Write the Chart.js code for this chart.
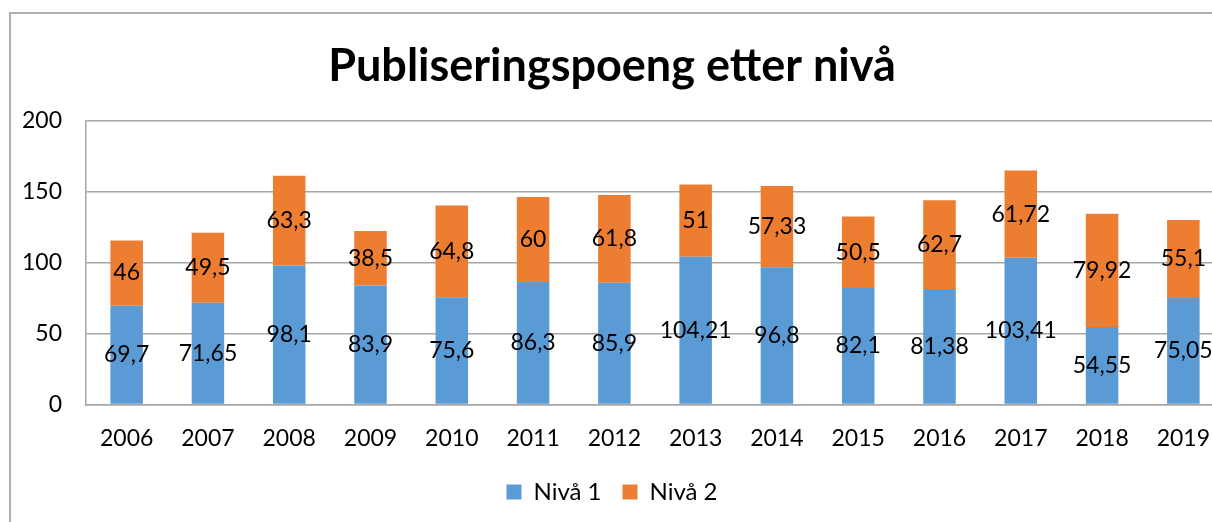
<!DOCTYPE html>
<html>
<head>
<meta charset="utf-8">
<script src="https://cdn.jsdelivr.net/npm/chart.js@4"></script>
<style>
  html, body { margin: 0; padding: 0; background: #ffffff; overflow: hidden; }
  #wrap { position: relative; width: 1212px; height: 522px; overflow: hidden; }
  #frame { position: absolute; left: 9px; top: 12px; width: 1300px; height: 600px; border: 2px solid #b0b0b0; box-sizing: border-box; }
  canvas { position: absolute; left: 0; top: 0; }
</style>
</head>
<body>
<div id="wrap">
  <div id="frame"></div>
  <canvas id="c" width="1232" height="522"></canvas>
</div>
<script>
const years = ['2006','2007','2008','2009','2010','2011','2012','2013','2014','2015','2016','2017','2018','2019'];
const niva1 = [69.7, 71.65, 98.1, 83.9, 75.6, 86.3, 85.9, 104.21, 96.8, 82.1, 81.38, 103.41, 54.55, 75.05];
const niva2 = [46, 49.5, 63.3, 38.5, 64.8, 60, 61.8, 51, 57.33, 50.5, 62.7, 61.72, 79.92, 55.1];
const yTicks = [0, 50, 100, 150, 200];
const seriesNames = ['Nivå 1', 'Nivå 2'];
const chartTitle = 'Publiseringspoeng etter nivå';

const FONT = 'Lato, "Liberation Sans", sans-serif';

const labelPlugin = {
  id: 'segLabels',
  afterDatasetsDraw(chart) {
    const ctx = chart.ctx;
    ctx.save();
    ctx.font = '23px ' + FONT;
    ctx.fillStyle = '#000000';
    ctx.textAlign = 'center';
    ctx.textBaseline = 'middle';
    chart.data.datasets.forEach((ds, di) => {
      const meta = chart.getDatasetMeta(di);
      meta.data.forEach((el, i) => {
        const v = ds.data[i];
        const y = (el.y + el.base) / 2;
        ctx.fillText(String(v).replace('.', ','), el.x, y);
      });
    });
    ctx.restore();
  }
};

new Chart(document.getElementById('c'), {
  type: 'bar',
  data: {
    labels: years,
    datasets: [
      { label: seriesNames[0], data: niva1, backgroundColor: '#5B9BD5', borderWidth: 0 },
      { label: seriesNames[1], data: niva2, backgroundColor: '#ED7D31', borderWidth: 0 }
    ]
  },
  options: {
    responsive: false,
    animation: false,
    layout: { padding: { left: 0, right: 8, top: 0, bottom: 8 } },
    datasets: { bar: { categoryPercentage: 1.0, barPercentage: 0.4 } },
    plugins: {
      title: {
        display: true,
        text: chartTitle,
        color: '#000000',
        font: { family: FONT, size: 45, weight: 'bold' },
        padding: { top: 39, bottom: 28 }
      },
      legend: {
        display: true,
        position: 'bottom',
        labels: {
          color: '#000000',
          font: { family: FONT, size: 24 },
          boxWidth: 15,
          boxHeight: 15,
          padding: 21
        }
      },
      tooltip: { enabled: false }
    },
    scales: {
      x: {
        stacked: true,
        afterFit(scale) { scale.height = scale.height - 13; },
        grid: { display: false, drawTicks: false },
        border: { display: true, color: '#a6a6a6', width: 1.5 },
        ticks: { color: '#000000', font: { family: FONT, size: 23 }, padding: 20, maxRotation: 0 }
      },
      y: {
        stacked: true,
        min: 0,
        max: 200,
        afterBuildTicks(scale) { scale.ticks = yTicks.map(v => ({ value: v })); },
        afterFit(scale) { scale.width = 86; },
        grid: { color: '#a6a6a6', lineWidth: 1.5, drawTicks: false },
        border: { display: true, color: '#a6a6a6', width: 1.5 },
        ticks: { color: '#000000', font: { family: FONT, size: 23 }, padding: 24 }
      }
    }
  },
  plugins: [labelPlugin]
});
</script>
</body>
</html>
